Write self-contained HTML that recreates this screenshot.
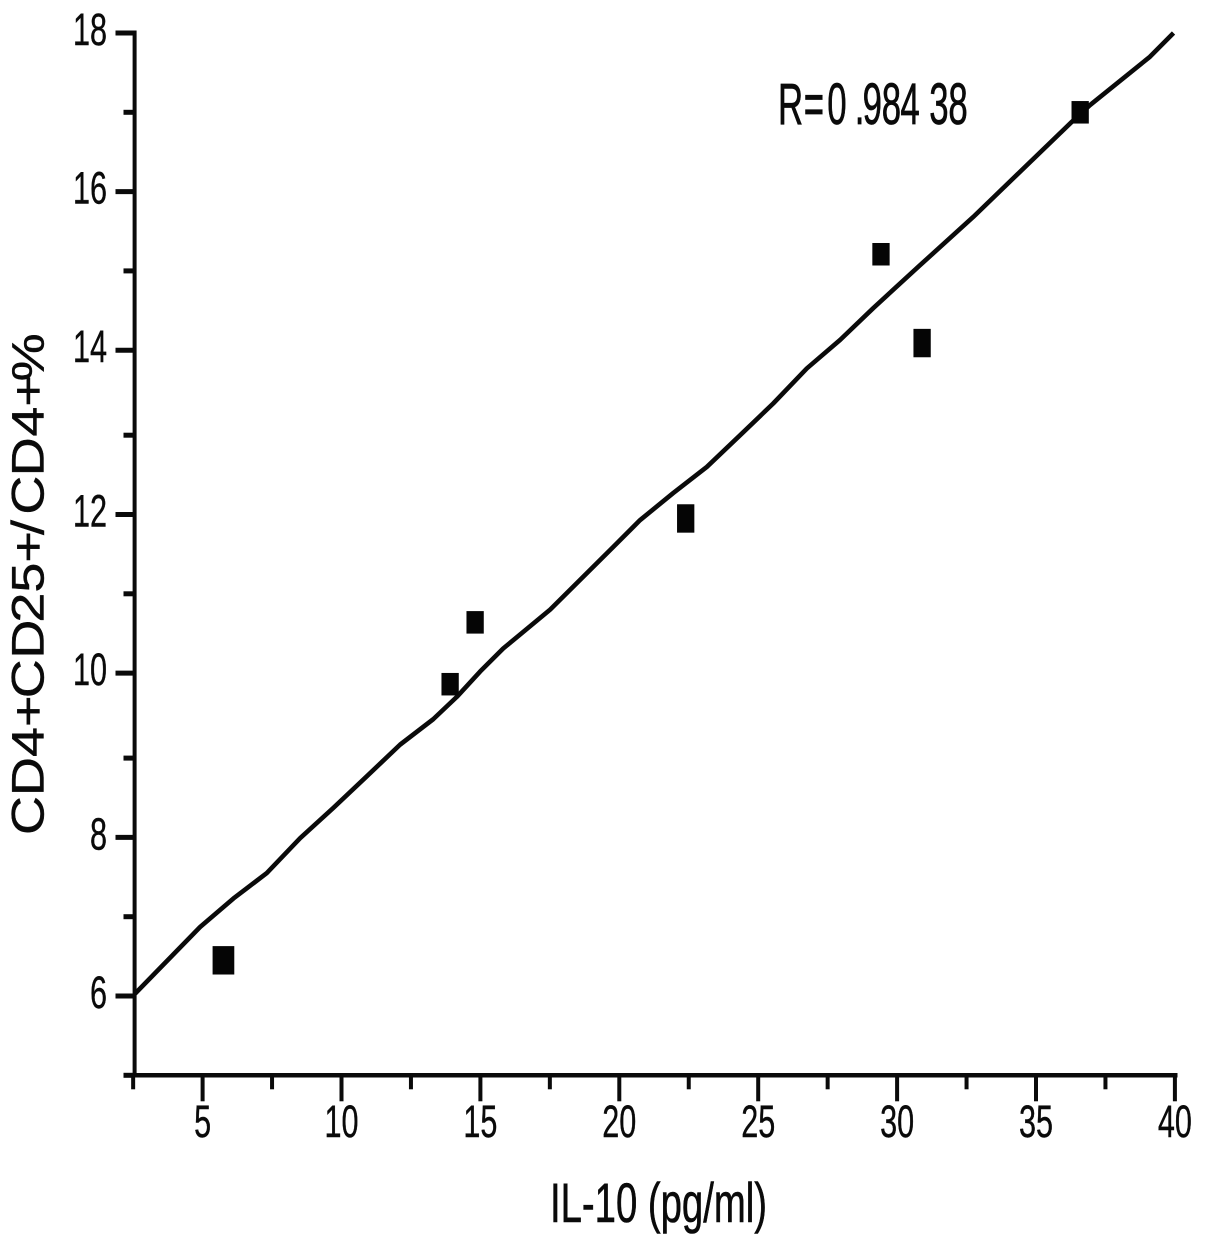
<!DOCTYPE html>
<html lang="en">
<head>
<meta charset="utf-8">
<title>IL-10 vs CD4+CD25+/CD4+%</title>
<style>
html,body{margin:0;padding:0;background:#fff;width:1205px;height:1246px;overflow:hidden}
svg{display:block}
text{font-family:"Liberation Sans",sans-serif;fill:#0a0a0a}
</style>
</head>
<body>
<svg id="chart" width="1205" height="1246" viewBox="0 0 1205 1246" xmlns="http://www.w3.org/2000/svg"></svg>
<script>
const xMajorTicks = [5, 10, 15, 20, 25, 30, 35, 40];
const xMinorTicks = [2.5, 7.5, 12.5, 17.5, 22.5, 27.5, 32.5, 37.5];
const yMajorTicks = [6, 8, 10, 12, 14, 16, 18];
const yMinorTicks = [5, 7, 9, 11, 13, 15, 17];
const pointX = [5.75, 13.91, 14.81, 22.39, 29.42, 30.9, 36.59];
const pointY = [6.45, 9.86, 10.64, 11.95, 15.21, 14.09, 17.0];
const fitX = [2.57, 4.91, 6.11, 7.31, 8.51, 9.70, 10.91, 12.11, 13.30, 14.15, 14.99, 15.82, 17.51, 19.78, 20.75, 21.94, 23.15, 24.35, 25.54, 26.75, 27.95, 29.14, 30.82, 32.74, 36.29, 36.94, 39.1, 39.95];
const fitY = [6.03, 6.87, 7.23, 7.55, 7.99, 8.37, 8.77, 9.17, 9.49, 9.70, 10.02, 10.31, 10.80, 11.59, 11.93, 12.27, 12.60, 13.0, 13.40, 13.77, 14.13, 14.53, 15.07, 15.68, 16.88, 17.09, 17.70, 18.0];

const svg = document.getElementById('chart');
const NS = 'http://www.w3.org/2000/svg';
const xScale = v => 202.6 + (v - 5) * 27.78;
// The y axis is not evenly spaced in the source picture: it jumps twice, near 13.5 and 9.5.
const yScale = v => 33 + (18 - v) * 79.3 + (v < 13.5 ? 5.7 : 0) + (v < 9.5 ? 5.7 : 0);
const axisX = 134.6;
const axisY = yScale(5);

function make(tag, attrs, parent) {
  const el = document.createElementNS(NS, tag);
  for (const k in attrs) el.setAttribute(k, attrs[k]);
  (parent || svg).appendChild(el);
  return el;
}

// Axes
const xAxis = make('line', {x1: axisX - 2, y1: axisY, x2: 1177.5, y2: axisY, stroke: '#0a0a0a', 'stroke-width': 4.5});


const yAxis = make('line', {x1: axisX, y1: 30.5, x2: axisX, y2: axisY + 2, stroke: '#0a0a0a', 'stroke-width': 4});



// X ticks
xMajorTicks.forEach(v => {
  const t = make('line', {x1: xScale(v), y1: axisY, x2: xScale(v), y2: axisY + 26, stroke: '#0a0a0a', 'stroke-width': 4});
  
  
  const g = make('g', {transform: `translate(${xScale(v)} 1137) scale(0.68 1)`});
  const l = make('text', {x: 0, y: 0, 'text-anchor': 'middle', 'font-size': 45, stroke: '#0a0a0a', 'stroke-width': 0.4}, g);
  l.textContent = v;
  
  
});
xMinorTicks.forEach(v => {
  const t = make('line', {x1: xScale(v), y1: axisY, x2: xScale(v), y2: axisY + 14, stroke: '#0a0a0a', 'stroke-width': 4});
  
  
});

// Y ticks
yMajorTicks.forEach(v => {
  const t = make('line', {x1: 115.5, y1: yScale(v), x2: axisX, y2: yScale(v), stroke: '#0a0a0a', 'stroke-width': 5});
  
  
  const g = make('g', {transform: `translate(107 ${yScale(v) + 12}) scale(0.68 1)`});
  const l = make('text', {x: 0, y: 0, 'text-anchor': 'end', 'font-size': 45, stroke: '#0a0a0a', 'stroke-width': 0.4}, g);
  l.textContent = v;
  
  
});
yMinorTicks.forEach(v => {
  const t = make('line', {x1: 123.5, y1: yScale(v), x2: axisX, y2: yScale(v), stroke: '#0a0a0a', 'stroke-width': 5});
  
  
});

// Fit line
const fitLine = make('polyline', {
  points: fitX.map((x, i) => xScale(x) + ',' + yScale(fitY[i])).join(' '),
  fill: 'none', stroke: '#0a0a0a', 'stroke-width': 4.6, 'stroke-linejoin': 'round'
});



// Points
pointX.forEach((x, i) => {
  const w = i === 0 ? 21.7 : 17.3;
  const h = (i === 0 || i === 3 || i === 5) ? 28.4 : 22.5;
  const p = make('rect', {x: xScale(x) - w / 2, y: yScale(pointY[i]) - h / 2, width: w, height: h, fill: '#050505'});
  
  
});

// Titles and annotation
const xTitle = make('text', {x: 550, y: 1222, 'font-size': 56, textLength: 217, lengthAdjust: 'spacingAndGlyphs', stroke: '#0a0a0a', 'stroke-width': 0.6});
xTitle.textContent = 'IL-10 (pg/ml)';



const yTitle = make('text', {
  x: '0 32.5 65 90 114 147 177 202 227 250 267 299 332 357 378',
  y: 0, 'font-size': 45, stroke: '#0a0a0a', 'stroke-width': 0.4,
  transform: 'translate(43.5 835) rotate(-90) scale(1.2 1)'
});
yTitle.textContent = 'CD4+CD25+/CD4+%';



const rLabel = make('text', {
  x: '0 43 82 128 141 173 204 252 284',
  y: 0, 'font-size': 58, stroke: '#0a0a0a', 'stroke-width': 0.7,
  transform: 'translate(778 124) scale(0.6 1)'
});
rLabel.textContent = 'R=0.98438';


</script>
</body>
</html>
